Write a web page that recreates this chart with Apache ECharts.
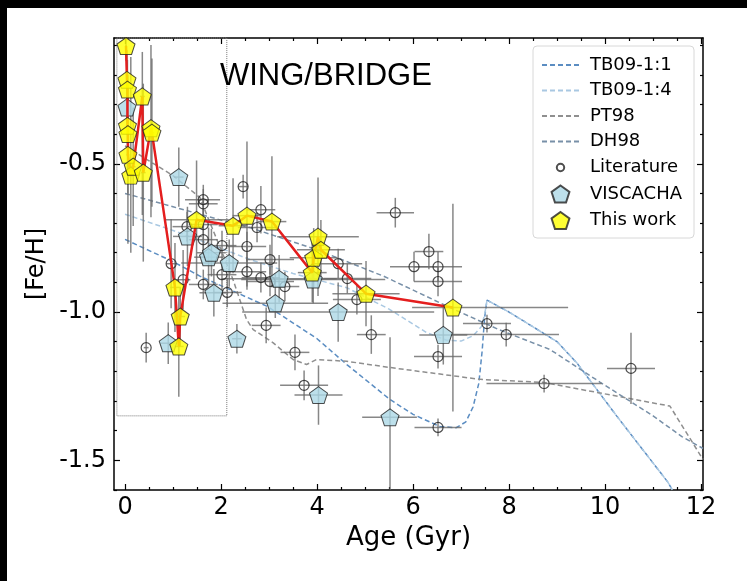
<!DOCTYPE html>
<html>
<head>
<meta charset="utf-8">
<script src="https://cdn.jsdelivr.net/npm/echarts@6/dist/echarts.min.js"></script>
<style>
  html, body { margin: 0; padding: 0; background: #fff; }
  #chart { width: 747px; height: 581px; }
</style>
</head>
<body>
<div id="chart"></div>
<script>
// Axis ticks
const ageTicks = [0, 2, 4, 6, 8, 10, 12];
const ageMinorTicks = [0.5, 1, 1.5, 2.5, 3, 3.5, 4.5, 5, 5.5, 6.5, 7, 7.5, 8.5, 9, 9.5, 10.5, 11, 11.5];
const fehTicks = [-1.5, -1.0, -0.5];
const fehMinorTicks = [-1.6, -1.4, -1.3, -1.2, -1.1, -0.9, -0.8, -0.7, -0.6, -0.4, -0.3, -0.2, -0.1];

// Cluster rows: [age, feh, ageErrLow, ageErrHigh, fehErrLow, fehErrHigh]
const literature = [
  [0.44, -1.120, 0.05, 0.05, 0.05, 0.05],
  [0.96, -0.837, 0.10, 0.10, 0.15, 0.15],
  [1.21, -0.891, 0.15, 0.15, 0.10, 0.10],
  [1.29, -0.712, 0.30, 0.30, 0.05, 0.05],
  [1.63, -0.621, 0.38, 0.35, 0.05, 0.05],
  [1.63, -0.635, 0.30, 0.30, 0.05, 0.05],
  [1.63, -0.705, 0.30, 0.30, 0.10, 0.10],
  [1.63, -0.756, 0.30, 0.30, 0.05, 0.05],
  [1.63, -0.907, 0.30, 0.30, 0.05, 0.05],
  [2.02, -0.776, 0.30, 0.30, 0.05, 0.05],
  [2.02, -0.874, 0.30, 0.30, 0.05, 0.05],
  [2.13, -0.934, 0.30, 0.30, 0.05, 0.05],
  [2.46, -0.577, 0.10, 0.10, 0.04, 0.04],
  [2.54, -0.779, 0.40, 0.40, 0.05, 0.05],
  [2.54, -0.864, 0.40, 0.40, 0.05, 0.05],
  [2.75, -0.715, 0.40, 0.40, 0.05, 0.05],
  [2.83, -0.655, 0.30, 0.30, 0.08, 0.08],
  [2.83, -0.884, 0.40, 0.40, 0.05, 0.05],
  [3.02, -0.823, 0.50, 0.50, 0.05, 0.05],
  [3.02, -0.897, 0.50, 0.50, 0.05, 0.05],
  [3.33, -0.914, 0.30, 0.30, 0.05, 0.05],
  [2.94, -1.045, 0.30, 0.30, 0.06, 0.06],
  [3.54, -1.136, 0.30, 0.30, 0.06, 0.06],
  [3.73, -1.247, 0.50, 0.50, 0.05, 0.05],
  [4.44, -0.837, 0.50, 0.50, 0.05, 0.05],
  [4.63, -0.887, 0.50, 0.50, 0.05, 0.05],
  [4.83, -0.958, 0.50, 0.50, 0.05, 0.05],
  [5.13, -1.076, 0.30, 0.30, 0.065, 0.065],
  [5.63, -0.665, 0.39, 0.39, 0.05, 0.05],
  [6.02, -0.847, 0.50, 0.50, 0.05, 0.05],
  [6.33, -0.796, 0.30, 0.30, 0.06, 0.06],
  [6.52, -0.847, 0.50, 0.50, 0.05, 0.05],
  [6.52, -0.897, 0.50, 0.50, 0.05, 0.05],
  [6.52, -1.150, 0.50, 0.50, 0.04, 0.04],
  [6.52, -1.389, 0.49, 0.49, 0.03, 0.03],
  [7.54, -1.039, 0.50, 0.50, 0.03, 0.03],
  [7.94, -1.076, 1.15, 1.10, 0.04, 0.04],
  [8.73, -1.241, 1.20, 1.20, 0.03, 0.03],
  [10.54, -1.190, 0.50, 0.50, 0.12, 0.12]
];

const viscacha = [
  [0.04, -0.310, 0.02, 0.02, 0.05, 0.05],
  [1.12, -0.545, 0.10, 0.10, 0.10, 0.10],
  [1.30, -0.745, 0.30, 0.30, 0.10, 0.10],
  [1.74, -0.815, 0.30, 0.30, 0.10, 0.10],
  [1.80, -0.800, 0.30, 0.30, 0.08, 0.08],
  [1.85, -0.935, 0.30, 0.30, 0.08, 0.08],
  [2.17, -0.835, 1.00, 1.00, 0.08, 0.08],
  [0.90, -1.105, 0.15, 0.15, 0.07, 0.07],
  [2.33, -1.090, 0.10, 0.10, 0.05, 0.05],
  [3.13, -0.970, 1.10, 1.10, 0.05, 0.10],
  [3.21, -0.888, 1.20, 1.20, 0.08, 0.08],
  [3.92, -0.890, 1.50, 1.50, 0.08, 0.08],
  [4.03, -1.280, 0.50, 0.50, 0.10, 0.10],
  [4.44, -1.000, 2.00, 2.00, 0.10, 0.10],
  [5.52, -1.355, 0.58, 0.56, 0.30, 0.27],
  [6.63, -1.077, 0.50, 0.50, 0.10, 0.10]
];

// sorted by age; the red track joins them in this order
const thisWork = [
  [0.02, -0.103, 0.02, 0.02, 0.05, 0.03],
  [0.04, -0.217, 0.02, 0.02, 0.10, 0.10],
  [0.05, -0.250, 0.02, 0.03, 0.10, 0.10],
  [0.05, -0.372, 0.03, 0.03, 0.15, 0.15],
  [0.06, -0.400, 0.03, 0.03, 0.20, 0.20],
  [0.06, -0.470, 0.03, 0.03, 0.30, 0.20],
  [0.12, -0.540, 0.05, 0.05, 0.26, 0.40],
  [0.17, -0.510, 0.05, 0.05, 0.20, 0.20],
  [0.36, -0.273, 0.05, 0.05, 0.40, 0.15],
  [0.38, -0.530, 0.05, 0.05, 0.30, 0.30],
  [0.54, -0.380, 0.05, 0.05, 0.30, 0.28],
  [0.56, -0.395, 0.05, 0.05, 0.25, 0.25],
  [1.04, -0.917, 0.10, 0.10, 0.15, 0.15],
  [1.12, -1.116, 0.10, 0.10, 0.17, 0.17],
  [1.15, -1.015, 0.10, 0.10, 0.10, 0.10],
  [1.49, -0.689, 0.67, 0.67, 0.20, 0.20],
  [2.25, -0.709, 0.30, 0.30, 0.16, 0.16],
  [2.54, -0.675, 0.30, 0.30, 0.25, 0.25],
  [3.06, -0.695, 0.30, 0.30, 0.22, 0.22],
  [3.90, -0.867, 0.30, 0.30, 0.10, 0.10],
  [3.93, -0.817, 0.50, 0.50, 0.10, 0.10],
  [4.02, -0.746, 0.85, 0.85, 0.20, 0.20],
  [4.08, -0.790, 0.50, 0.50, 0.10, 0.10],
  [5.02, -0.938, 0.70, 0.70, 0.11, 0.11],
  [6.83, -0.985, 0.85, 2.40, 0.35, 0.35]
];

// Chemical evolution models: [age, feh]
const tb09_11 = [
  [0, -0.755], [1, -0.83], [1.56, -0.879], [2.95, -0.98], [3.23, -1.008], [4, -1.09],
  [4.62, -1.177], [5.52, -1.295], [6.0, -1.345], [6.56, -1.386], [6.9, -1.39], [7.1, -1.37],
  [7.25, -1.32], [7.37, -1.24], [7.44, -1.13], [7.49, -1.02], [7.54, -0.96], [8.0, -1.0],
  [8.5, -1.05], [9.0, -1.10], [9.41, -1.171], [10.24, -1.35], [11.31, -1.574], [11.4, -1.6]
];
const tb09_14 = [
  [0, -0.67], [1, -0.725], [2, -0.785], [2.6, -0.823], [3.5, -0.87], [4.62, -0.918],
  [5.5, -0.99], [6.29, -1.07], [6.7, -1.095], [7.0, -1.098], [7.25, -1.08], [7.43, -1.048],
  [7.5, -1.0], [7.54, -0.96], [8.0, -1.0], [8.5, -1.05], [9.0, -1.10], [9.41, -1.171],
  [10.24, -1.35], [11.31, -1.574], [11.4, -1.6]
];
const pt98 = [
  [0, -0.44], [0.5, -0.49], [1, -0.54], [1.56, -0.614], [1.77, -0.699], [2.0, -0.79],
  [2.25, -0.891], [2.53, -1.025], [2.67, -1.059], [3.08, -1.103], [3.5, -1.16], [3.78, -1.177],
  [3.99, -1.16], [4.62, -1.166], [5.52, -1.187], [7.4, -1.227], [8.71, -1.237], [11.35, -1.317],
  [12.04, -1.497]
];
const dh98 = [
  [0, -0.60], [1, -0.645], [2, -0.69], [2.6, -0.715], [4, -0.79], [5.4, -0.88], [6.77, -0.985],
  [7.8, -1.06], [8.85, -1.126], [9.9, -1.237], [11, -1.35], [11.6, -1.42], [12.04, -1.46]
];

const X_MIN = -0.23, X_MAX = 12.04, Y_MIN = -1.6, Y_MAX = -0.076;

const pentagon = 'path://M0,-1 L0.951,-0.309 L0.588,0.809 L-0.588,0.809 L-0.951,-0.309 Z';
const smallCircle = 'path://M-2.3,-2.3 M2.3,2.3 M1,0 A1,1 0 1,1 -1,0 A1,1 0 1,1 1,0 Z';
const FONT = 'DejaVu Sans';
const noMarker = { color: 'rgba(0,0,0,0)', borderWidth: 0, opacity: 0 };

const chart = echarts.init(document.getElementById('chart'), null, { renderer: 'canvas' });

function errorBars(rows, z) {
  return {
    type: 'custom',
    xAxisIndex: 0, yAxisIndex: 0,
    silent: true, z: z, clip: true,
    data: rows,
    encode: { x: 0, y: 1 },
    renderItem: function (params, api) {
      const a = api.value(0), f = api.value(1);
      const l = api.coord([a - api.value(2), f]);
      const r = api.coord([a + api.value(3), f]);
      const b = api.coord([a, f - api.value(4)]);
      const t = api.coord([a, f + api.value(5)]);
      const st = { stroke: 'rgba(105,105,105,0.8)', lineWidth: 1.5 };
      return {
        type: 'group',
        children: [
          { type: 'line', shape: { x1: l[0], y1: l[1], x2: r[0], y2: r[1] }, style: st },
          { type: 'line', shape: { x1: b[0], y1: b[1], x2: t[0], y2: t[1] }, style: st }
        ]
      };
    }
  };
}

function modelLine(name, data, color) {
  return {
    name: name, type: 'line', data: data, xAxisIndex: 0, yAxisIndex: 0,
    symbol: 'none', showSymbol: false, smooth: false, clip: true, silent: true, z: 1,
    lineStyle: { color: color, width: 1.5, type: [5, 3] },
    itemStyle: { color: color }
  };
}

function xAxisDef(pos, major, show) {
  return {
    type: 'value', position: pos, min: X_MIN, max: X_MAX,
    axisLine: { show: show, onZero: false, lineStyle: { color: '#000', width: 1.5 } },
    axisTick: { show: true, inside: true, length: major ? 6 : 3,
      customValues: major ? ageTicks : ageMinorTicks, lineStyle: { color: '#000', width: 1.2 } },
    axisLabel: { show: major && pos === 'bottom', customValues: ageTicks, color: '#000',
      fontFamily: FONT, fontSize: 24, margin: 6 },
    splitLine: { show: false },
    name: (major && pos === 'bottom') ? 'Age (Gyr)' : '',
    nameLocation: 'middle', nameGap: 29,
    nameTextStyle: { color: '#000', fontFamily: FONT, fontSize: 26 }
  };
}

function yAxisDef(pos, major, show) {
  return {
    type: 'value', position: pos, min: Y_MIN, max: Y_MAX,
    axisLine: { show: show, onZero: false, lineStyle: { color: '#000', width: 1.5 } },
    axisTick: { show: true, inside: true, length: major ? 6 : 3,
      customValues: major ? fehTicks : fehMinorTicks, lineStyle: { color: '#000', width: 1.2 } },
    axisLabel: { show: major && pos === 'left', customValues: fehTicks, color: '#000',
      fontFamily: FONT, fontSize: 24, margin: 8,
      formatter: function (v) { return v.toFixed(1); } },
    splitLine: { show: false },
    name: (major && pos === 'left') ? '[Fe/H]' : '',
    nameLocation: 'middle', nameGap: 55, nameRotate: 90,
    nameTextStyle: { color: '#000', fontFamily: FONT, fontSize: 24 }
  };
}

const option = {
  backgroundColor: '#fff',
  animation: false,
  grid: { left: 114, right: 44, top: 38, bottom: 91, containLabel: false },
  graphic: [
    { type: 'rect', left: 0, top: 0, shape: { width: 747, height: 8 }, style: { fill: '#000' }, z: 100 },
    { type: 'rect', left: 0, top: 0, shape: { width: 7, height: 581 }, style: { fill: '#000' }, z: 100 },
    { type: 'text', left: 220, top: 61, z: 50,
      style: { text: 'WING/BRIDGE', fontFamily: 'Liberation Sans', fontSize: 31, fill: '#000' } }
  ],
  xAxis: [
    xAxisDef('bottom', true, true),
    xAxisDef('bottom', false, false),
    xAxisDef('top', true, true),
    xAxisDef('top', false, false)
  ],
  yAxis: [
    yAxisDef('left', true, true),
    yAxisDef('left', false, false),
    yAxisDef('right', true, true),
    yAxisDef('right', false, false)
  ],
  legend: {
    orient: 'vertical', left: 533, top: 46,
    itemWidth: 37, itemHeight: 17, itemGap: 7.5,
    padding: [10, 12, 8, 8],
    backgroundColor: '#fff', borderColor: '#d8d8d8', borderWidth: 1, borderRadius: 4,
    textStyle: { color: '#000', fontFamily: FONT, fontSize: 18, padding: [0, 0, 0, 6] },
    data: [
      { name: 'TB09-1:1', itemStyle: noMarker },
      { name: 'TB09-1:4', itemStyle: noMarker },
      { name: 'PT98', itemStyle: noMarker },
      { name: 'DH98', itemStyle: noMarker },
      { name: 'Literature', icon: smallCircle },
      { name: 'VISCACHA', icon: pentagon },
      { name: 'This work', icon: pentagon }
    ],
    selectedMode: false
  },
  series: [
    modelLine('TB09-1:1', tb09_11, '#5b8dc2'),
    modelLine('TB09-1:4', tb09_14, '#a9c8e2'),
    modelLine('PT98', pt98, '#8f8f8f'),
    modelLine('DH98', dh98, '#7890a8'),
    errorBars(literature, 2),
    errorBars(viscacha, 2),
    errorBars(thisWork, 2),
    {
      name: 'Literature', type: 'scatter', z: 3, silent: true,
      data: literature.map(r => [r[0], r[1]]),
      symbol: 'circle', symbolSize: 10,
      itemStyle: { color: 'rgba(0,0,0,0)', borderColor: '#222', borderWidth: 1.2 },
      markArea: {
        silent: true,
        itemStyle: { color: 'rgba(0,0,0,0)', borderColor: '#777', borderWidth: 1, borderType: 'dotted' },
        data: [[{ coord: [-0.17, Y_MAX] }, { coord: [2.12, -1.35] }]]
      }
    },
    {
      name: 'VISCACHA', type: 'scatter', z: 4, silent: true,
      data: viscacha.map(r => [r[0], r[1]]),
      symbol: pentagon, symbolSize: [18, 17],
      itemStyle: { color: '#add8e6', borderColor: '#222', borderWidth: 1 }
    },
    {
      name: 'track', type: 'line', z: 5, silent: true,
      data: thisWork.map(r => [r[0], r[1]]),
      symbol: 'none', showSymbol: false,
      lineStyle: { color: '#e41e1e', width: 2.5 }
    },
    {
      name: 'This work', type: 'scatter', z: 6, silent: true,
      data: thisWork.map(r => [r[0], r[1]]),
      symbol: pentagon, symbolSize: [18, 17],
      itemStyle: { color: '#ffff00', borderColor: '#222', borderWidth: 1 }
    }
  ]
};

chart.setOption(option);
</script>
</body>
</html>
